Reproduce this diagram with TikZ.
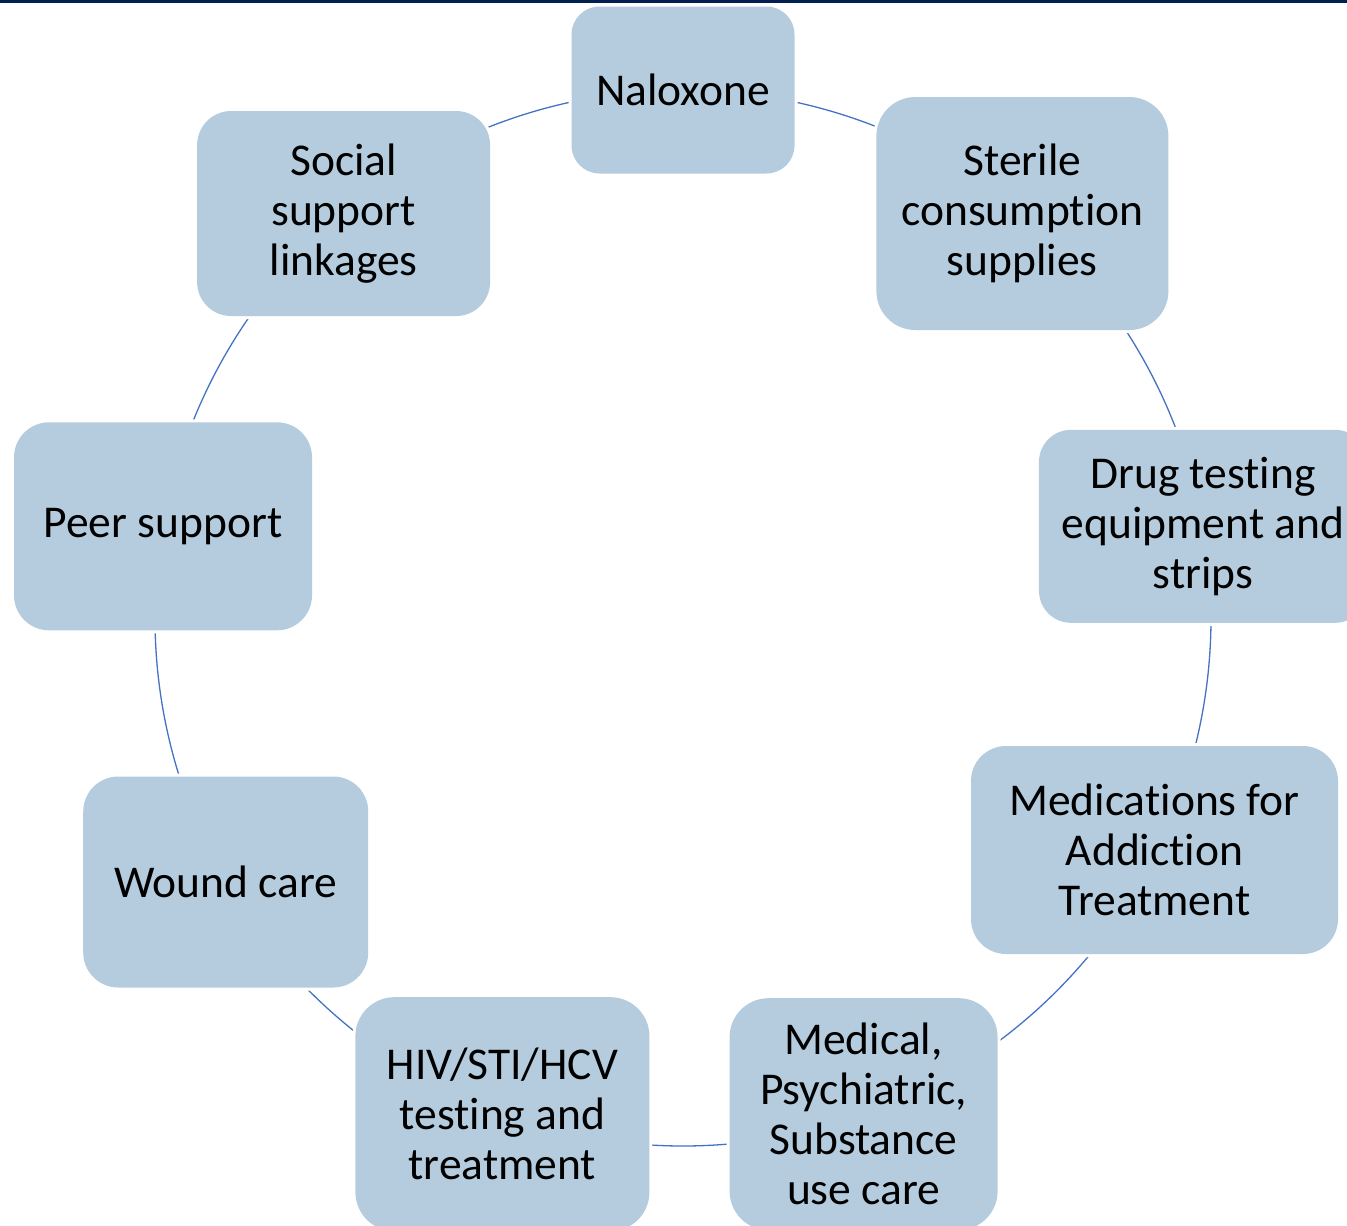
\documentclass[tikz,border=0pt]{standalone}
\usepackage{fontspec}
\setmainfont[Ligatures={NoCommon,NoContextual,NoRare}]{Carlito}
\usetikzlibrary{calc,backgrounds}
\definecolor{boxfill}{HTML}{B4CCDD}
\definecolor{ringline}{HTML}{4472C4}
\definecolor{topbar}{HTML}{002050}
\begin{document}
\begin{tikzpicture}[x=1pt,y=1pt,
  item/.style={fill=boxfill, preaction={draw=white,line width=6pt},
    inner sep=0pt, align=center, text=black,
    font=\fontsize{45.5}{50}\selectfont},
  ring/.style={draw=ringline, line width=1.3pt}]
\useasboundingbox (0,0) rectangle (1347,-1226);
\clip (0,0) rectangle (1347,-1226);

% ring of nine slots
\coordinate (C) at (683,-618);
\foreach \i/\a in {1/90,2/50,3/10,4/-30,5/-70,6/-110,7/-150,8/170,9/130}
  \coordinate (s\i) at ($(C)+(\a:528)$);

% service boxes
\node[item, minimum width=223pt, minimum height=167pt, rounded corners=28pt] (nal) at (s1) {Naloxone};
\node[item, minimum width=292pt, minimum height=233pt, rounded corners=39pt] (ster) at (s2) {Sterile\\consumption\\supplies};
\node[item, minimum width=328pt, minimum height=193pt, rounded corners=32pt] (drug) at (s3) {Drug testing\\equipment and\\strips};
\node[item, minimum width=367pt, minimum height=208pt, rounded corners=35pt] (meds) at (1154.5,-850) {Medications for\\Addiction\\Treatment};
\node[item, minimum width=268pt, minimum height=232pt, rounded corners=39pt] (medc) at (s5) {Medical,\\Psychiatric,\\Substance\\use care};
\node[item, minimum width=294pt, minimum height=234pt, rounded corners=39pt] (hiv) at (s6) {HIV/STI/HCV\\testing and\\treatment};
\node[item, minimum width=285pt, minimum height=211pt, rounded corners=35pt] (wound) at (s7) {Wound care};
\node[item, minimum width=298pt, minimum height=208pt, rounded corners=35pt] (peer) at (s8) {Peer support};
\node[item, minimum width=293pt, minimum height=205pt, rounded corners=34pt] (soc) at (s9) {Social\\support\\linkages};

% connecting arcs, behind the boxes
\begin{scope}[on background layer]
\draw[ring] (nal.center)   arc[start angle=90,   end angle=50,   radius=528];
\draw[ring] (ster.center)  arc[start angle=50,   end angle=10,   radius=528];
\draw[ring] (drug.center)  arc[start angle=10,   end angle=-30,  radius=528];
\draw[ring] (s4)           arc[start angle=-30,  end angle=-70,  radius=528];
\draw[ring] (medc.center)  arc[start angle=-70,  end angle=-110, radius=528];
\draw[ring] (hiv.center)   arc[start angle=-110, end angle=-150, radius=528];
\draw[ring] (wound.center) arc[start angle=-150, end angle=-190, radius=528];
\draw[ring] (peer.center)  arc[start angle=170,  end angle=130,  radius=528];
\draw[ring] (soc.center)   arc[start angle=130,  end angle=90,   radius=528];
\end{scope}

% top rule
\fill[topbar] (0,0) rectangle (1347,-3);
\end{tikzpicture}
\end{document}
